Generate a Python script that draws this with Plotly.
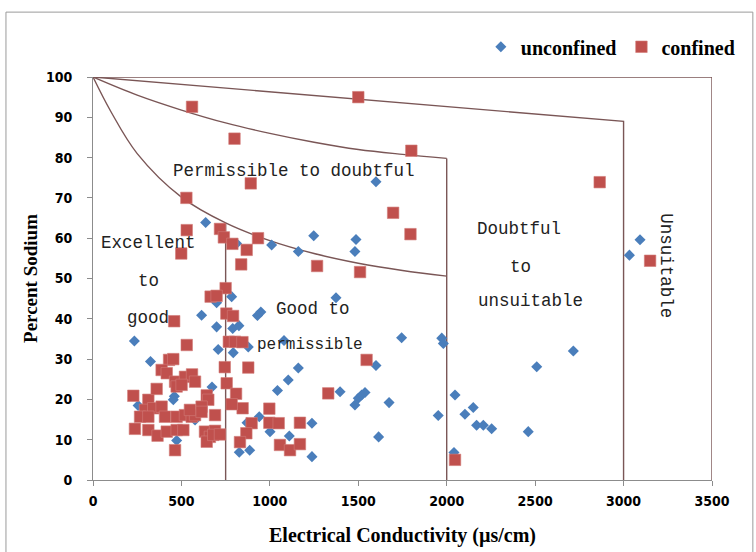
import plotly.graph_objects as go

# ---- sample data: electrical conductivity (µs/cm) vs percent sodium ----
unconfined_ec = [637, 812, 1010, 1161, 1248, 1600, 1487, 1481, 3093, 3033,
                 614, 234, 784, 699, 699, 790, 825, 949, 930, 1080,
                 1161, 1104, 1043, 708, 793, 878, 325, 673, 460, 454,
                 255, 577, 473, 940, 871, 1001, 1110, 1238, 1238, 827,
                 886, 1374, 1745, 1972, 1981, 1600, 1397, 1500, 1519, 1538,
                 1481, 1674, 1952, 1615, 2047, 2103, 2150, 2169, 2207, 2254,
                 2461, 2509, 2716, 2041]
unconfined_na = [63.9, 58.7, 58.3, 56.7, 60.6, 74.0, 59.7, 56.7, 59.6, 55.8,
                 40.9, 34.5, 45.5, 44.0, 38.0, 37.6, 38.3, 41.7, 40.8, 34.6,
                 27.8, 24.8, 22.2, 32.4, 31.6, 33.0, 29.4, 23.1, 20.8, 19.9,
                 18.5, 14.9, 9.8, 15.7, 14.2, 12.0, 10.9, 14.1, 5.8, 6.9,
                 7.4, 45.2, 35.3, 35.2, 33.9, 28.4, 21.9, 20.3, 21.1, 21.7,
                 18.6, 19.2, 16.0, 10.7, 21.1, 16.3, 18.0, 13.6, 13.6, 12.7,
                 12.0, 28.1, 32.0, 6.8]

confined_ec = [560, 1500, 800, 1800, 892, 2865, 528, 1697, 1795, 530,
               718, 740, 788, 869, 933, 499, 838, 1267, 1510, 3150,
               750, 665, 699, 459, 754, 792, 530, 768, 803, 845,
               1547, 1330, 2047, 430, 454, 388, 417, 464, 520, 560,
               577, 473, 501, 745, 878, 756, 809, 846, 784, 997,
               997, 1050, 1170, 897, 867, 831, 1057, 1114, 1170, 643,
               652, 614, 228, 313, 360, 294, 341, 388, 266, 313,
               407, 473, 520, 558, 237, 313, 365, 417, 473, 511,
               633, 661, 643, 690, 680, 718, 577, 614, 548, 464,
               690]
confined_na = [92.6, 95.0, 84.7, 81.7, 73.6, 73.9, 70.0, 66.3, 61.0, 62.0,
               62.3, 60.2, 58.6, 57.1, 60.0, 56.2, 53.5, 53.1, 51.6, 54.4,
               47.6, 45.5, 45.7, 39.4, 41.3, 40.7, 33.5, 34.3, 34.3, 34.2,
               29.8, 21.5, 5.0, 29.8, 30.0, 27.3, 26.5, 24.4, 25.6, 26.2,
               24.4, 23.2, 23.6, 28.0, 27.9, 24.0, 21.4, 17.8, 18.8, 17.7,
               14.2, 14.1, 14.2, 14.1, 11.6, 9.4, 8.7, 7.4, 8.9, 21.0,
               19.9, 18.2, 20.9, 19.9, 22.6, 17.4, 17.8, 18.2, 15.7, 15.7,
               15.7, 15.7, 16.1, 15.7, 12.7, 12.4, 11.0, 12.0, 12.4, 12.4,
               12.0, 10.7, 9.5, 12.2, 11.2, 11.3, 16.1, 16.9, 17.4, 7.4,
               16.1]

# ---- Wilcox diagram class boundaries ----
outer_x, outer_y = [0, 3500, 3500], [100, 100, 0]
doubtful_x, doubtful_y = [0, 3000, 3000], [100, 89, 0]
upper_curve_x = [0, 250, 500, 750, 1000, 1250, 1500, 1750, 2000]
upper_curve_y = [100, 95.5, 91.8, 88.6, 86.0, 83.8, 82.0, 80.8, 79.8]
lower_curve_x = [0, 100, 250, 500, 750, 1000, 1250, 1500, 1750, 2000]
lower_curve_y = [100, 91.5, 81.0, 70.2, 63.8, 59.4, 56.2, 53.8, 52.0, 50.6]
ec_2000_x, ec_2000_y = [2000, 2000], [79.8, 0]
ec_750_x, ec_750_y = [750, 750], [63.8, 0]

x_ticks = [0, 500, 1000, 1500, 2000, 2500, 3000, 3500]
y_ticks = [0, 10, 20, 30, 40, 50, 60, 70, 80, 90, 100]

LINE = "#7A5656"
SERIF = "Liberation Serif, Times New Roman, serif"
NARROW = "Liberation Sans Narrow, DejaVu Sans Condensed, Arial Narrow, sans-serif"
MONO = "Liberation Mono, DejaVu Sans Mono, monospace"

fig = go.Figure()

for bx, by, shape in [(outer_x, outer_y, "linear"), (doubtful_x, doubtful_y, "linear"),
                      (upper_curve_x, upper_curve_y, "spline"),
                      (lower_curve_x, lower_curve_y, "spline"),
                      (ec_2000_x, ec_2000_y, "linear"), (ec_750_x, ec_750_y, "linear")]:
    fig.add_trace(go.Scatter(x=bx, y=by, mode="lines", showlegend=False,
                             hoverinfo="skip",
                             line=dict(color=LINE, width=1.4, shape=shape)))

fig.add_trace(go.Scatter(x=unconfined_ec, y=unconfined_na, mode="markers",
                         name="unconfined",
                         marker=dict(symbol="diamond", size=8.5, color="#4A7EBB",
                                     line=dict(width=0))))
fig.add_trace(go.Scatter(x=confined_ec, y=confined_na, mode="markers",
                         name="confined",
                         marker=dict(symbol="square", size=11.5, color="#C0504D",
                                     line=dict(width=0.6, color="#D27C79"))))

# class labels
labels = [
    ("Permissible to doubtful", 1137, 76.7, 0, 17.5),
    ("Excellent", 311, 58.8, 0, 17.5),
    ("to", 311, 49.4, 0, 17.5),
    ("good", 311, 40.2, 0, 17.5),
    ("Good to", 1244, 42.4, 0, 17.5),
    ("permissible", 1227, 33.5, 0, 16),
    ("Doubtful", 2409, 62.3, 0, 17.5),
    ("to", 2420, 52.9, 0, 17.5),
    ("unsuitable", 2471, 44.4, 0, 17.5),
    ("Unsuitable", 3240, 53.3, 90, 17.5),
]
for text, lx, ly, ang, fs in labels:
    fig.add_annotation(x=lx, y=ly, text=text, showarrow=False, textangle=ang,
                       font=dict(family=MONO, size=fs, color="#222222"))

# chart border
fig.add_shape(type="rect", xref="paper", yref="paper",
              x0=-0.1406, x1=1.066, y0=-0.25, y1=1.161,
              line=dict(color="#9A9A9A", width=1), layer="below")

fig.update_layout(
    width=756, height=552,
    margin=dict(l=93, r=44, t=77, b=72),
    plot_bgcolor="white", paper_bgcolor="white",
    legend=dict(orientation="h", x=1.045, xanchor="right", y=1.075, yanchor="middle",
                font=dict(family=SERIF, size=20, color="black", weight="bold"),
                itemwidth=30, tracegroupgap=0, bgcolor="rgba(0,0,0,0)"),
    xaxis=dict(range=[0, 3500], tickvals=x_ticks, showgrid=False, zeroline=False,
               showline=True, linecolor="#8C8C8C", linewidth=1, automargin=False,
               ticks="outside", ticklen=5, tickcolor="#8C8C8C", ticklabelstandoff=3,
               tickfont=dict(family=NARROW, size=14, color="black", weight="bold"),
               title=dict(text="<b>Electrical Conductivity (µs/cm)</b>", standoff=20,
                          font=dict(family=SERIF, size=20, color="black"))),
    yaxis=dict(range=[0, 100], tickvals=y_ticks, showgrid=False, zeroline=False,
               showline=True, linecolor="#8C8C8C", linewidth=1, automargin=False,
               ticks="outside", ticklen=5, tickcolor="#8C8C8C", ticklabelstandoff=12,
               tickfont=dict(family=NARROW, size=14, color="black", weight="bold"),
               title=dict(text="<b>Percent Sodium</b>", standoff=3,
                          font=dict(family=SERIF, size=19, color="black"))),
)

fig.write_html("out.html")
